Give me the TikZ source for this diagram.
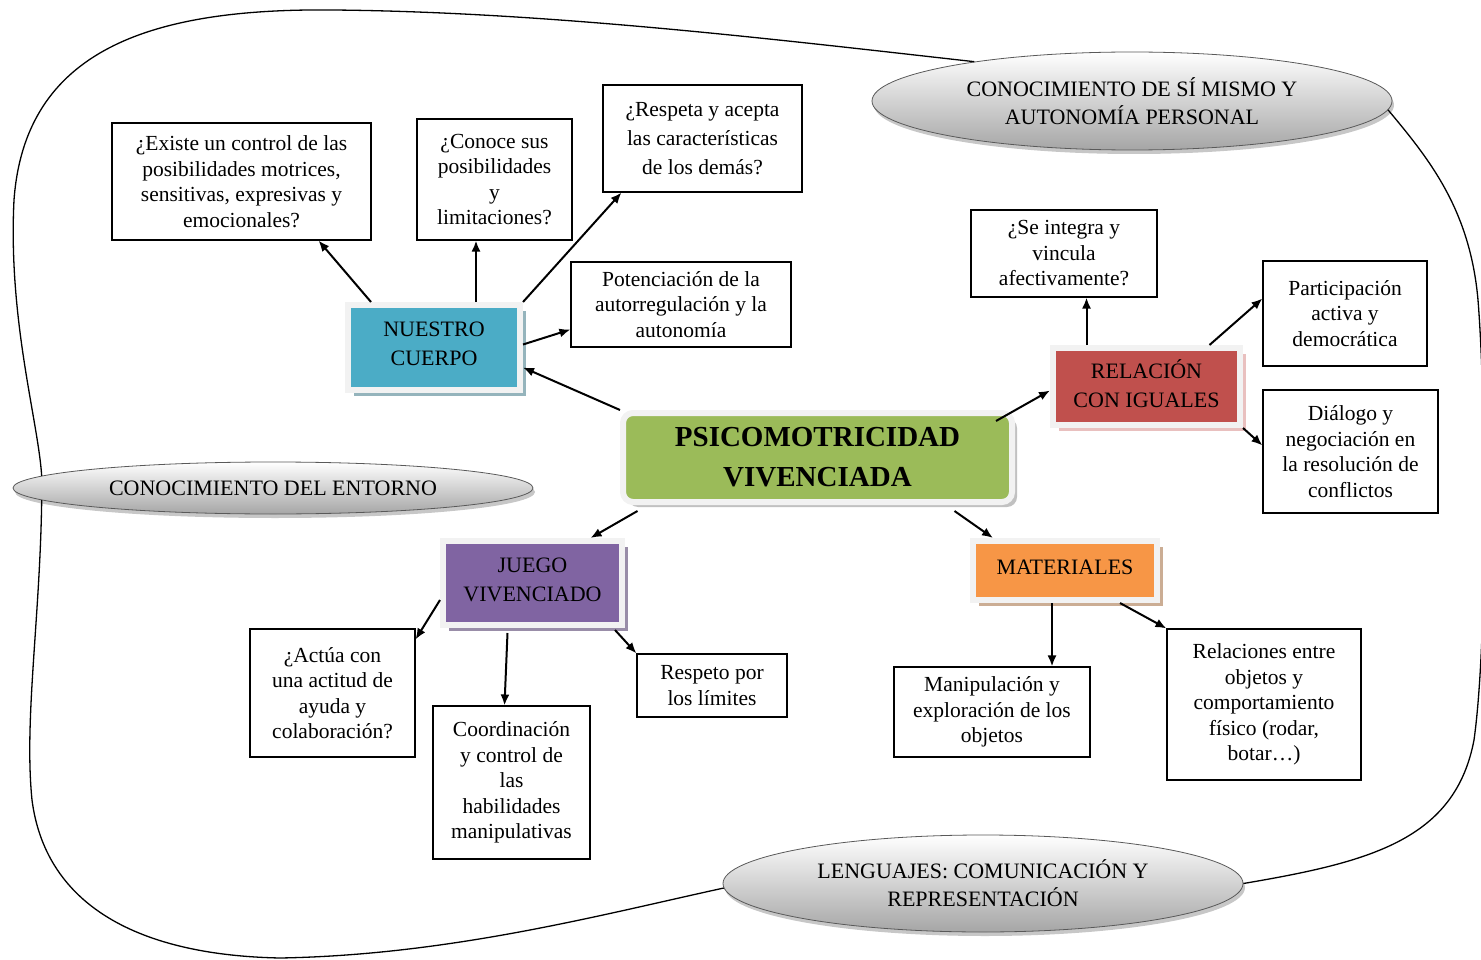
\documentclass[tikz,border=0pt]{standalone}
\usepackage{fontspec}
\setmainfont{Liberation Serif}
\usetikzlibrary{shapes}
\usetikzlibrary{shadows}
\usetikzlibrary{arrows.meta}
\definecolor{cuerpob}{HTML}{4BACC6}
\definecolor{igualr}{HTML}{C0504D}
\definecolor{juegov}{HTML}{8064A2}
\definecolor{materialo}{HTML}{F79646}
\definecolor{centrog}{HTML}{9BBB59}
\definecolor{bordeg}{HTML}{F2F2F2}
\tikzset{
    mybox/.style = {draw=black, line width=1.1pt, fill=white, align=center, inner sep=0pt, font=\fontsize{21.5}{25.5}\selectfont},
    mynodeb/.style = {draw=bordeg, line width=6pt, fill=cuerpob, align=center, inner sep=0pt, text depth=8pt, font=\fontsize{22}{29}\selectfont, drop shadow={shadow xshift=6pt, shadow yshift=-6pt, fill=cuerpob!45!gray, opacity=0.7}},
    mynoder/.style = {draw=bordeg, line width=6pt, fill=igualr, align=center, inner sep=0pt, text depth=6pt, font=\fontsize{22}{29}\selectfont, drop shadow={shadow xshift=6pt, shadow yshift=-6pt, fill=igualr!45!white, opacity=0.8}},
    mynodev/.style = {draw=bordeg, line width=6pt, fill=juegov, align=center, inner sep=0pt, text depth=6pt, font=\fontsize{22}{29}\selectfont, drop shadow={shadow xshift=6pt, shadow yshift=-6pt, fill=juegov!55!gray, opacity=0.8}},
    mynodeo/.style = {draw=bordeg, line width=6pt, fill=materialo, align=center, inner sep=0pt, text depth=7pt, font=\fontsize{22}{29}\selectfont, drop shadow={shadow xshift=6pt, shadow yshift=-6pt, fill=materialo!45!gray, opacity=0.7}},
    mynodeg/.style = {draw=bordeg, line width=6pt, fill=centrog, rounded corners=10pt, align=center, inner sep=0pt, font=\bfseries\fontsize{29}{40}\selectfont, drop shadow={shadow xshift=5pt, shadow yshift=-5pt, fill=gray!60, opacity=0.8}},
    myellipse/.style = {ellipse, draw=gray!70!black, line width=0.8pt, top color=white, bottom color=gray!70, align=center, inner sep=0pt, font=\fontsize{22}{28}\selectfont, drop shadow={shadow xshift=2pt, shadow yshift=-4pt, fill=gray!55, opacity=0.8}},
    edgen/.style = {-, line width=1.3pt, black},
    edgea/.style = {-{Latex[length=11pt,width=9pt]}, line width=2pt, black}
}
\begin{document}
\begin{tikzpicture}[x=1pt, y=-1pt]
  \useasboundingbox (0,0) rectangle (1481,960);
  % the three fields of experience
  \node[myellipse, minimum width=520pt, minimum height=98pt] (sismo) at (1132,101)
    {CONOCIMIENTO DE SÍ MISMO Y\\AUTONOMÍA PERSONAL};
  \node[myellipse, minimum width=520pt, minimum height=52pt] (entorno) at (273,488)
    {CONOCIMIENTO DEL ENTORNO};
  \node[myellipse, minimum width=520pt, minimum height=97pt] (lenguajes) at (983,883.5)
    {LENGUAJES: COMUNICACIÓN Y\\REPRESENTACIÓN};
  % outline round the whole map
  \draw[edgen] (sismo.166) .. controls (780,40) and (550,12) .. (333,10)
    .. controls (150,8) and (25,50) .. (14,200)
    .. controls (8,320) and (38,420) .. (entorno.177);
  \draw[edgen] (entorno.183.5) .. controls (40,620) and (24,720) .. (32,800)
    .. controls (45,900) and (130,955) .. (280,958)
    .. controls (450,955) and (600,915) .. (lenguajes.181);
  \draw[edgen] (lenguajes.0) .. controls (1370,862) and (1455,840) .. (1474,740)
    .. controls (1488,640) and (1486,400) .. (1478,300)
    .. controls (1470,210) and (1430,160) .. (sismo.-2);
  % main blocks
  \node[mynodeg, minimum width=389pt, minimum height=89pt] (centro) at (817.5,457.5)
    {PSICOMOTRICIDAD\\VIVENCIADA};
  \node[mynodeb, minimum width=172pt, minimum height=85pt] (cuerpo) at (434,347.5)
    {NUESTRO\\CUERPO};
  \node[mynoder, minimum width=187pt, minimum height=77pt] (igual) at (1146.5,386.5)
    {RELACIÓN\\CON IGUALES};
  \node[mynodev, minimum width=179pt, minimum height=84pt] (juego) at (532.5,583)
    {JUEGO\\VIVENCIADO};
  \node[mynodeo, minimum width=184pt, minimum height=59pt] (material) at (1065,570.5)
    {MATERIALES};
  % questions and contents
  \node[mybox, minimum width=259pt, minimum height=117pt] (existe) at (241.5,181.5)
    {¿Existe un control de las\\posibilidades motrices,\\sensitivas, expresivas y\\emocionales?};
  \node[mybox, minimum width=155pt, minimum height=121pt] (conoce) at (494.5,179.5)
    {¿Conoce sus\\posibilidades\\y\\limitaciones?};
  \node[mybox, minimum width=199pt, minimum height=107pt, font=\fontsize{21.5}{29}\selectfont] (respeta) at (702.5,138.5)
    {¿Respeta y acepta\\las características\\de los demás?};
  \node[mybox, minimum width=220pt, minimum height=85pt] (potencia) at (681,304.5)
    {Potenciación de la\\autorregulación y la\\autonomía};
  \node[mybox, minimum width=186pt, minimum height=87pt] (integra) at (1064,253.5)
    {¿Se integra y\\vincula\\afectivamente?};
  \node[mybox, minimum width=164pt, minimum height=105pt] (particip) at (1345,313.5)
    {Participación\\activa y\\democrática};
  \node[mybox, minimum width=175pt, minimum height=123pt] (dialogo) at (1350.5,451.5)
    {Diálogo y\\negociación en\\la resolución de\\conflictos};
  \node[mybox, minimum width=165pt, minimum height=128pt] (actua) at (332.5,693)
    {¿Actúa con\\una actitud de\\ayuda y\\colaboración?};
  \node[mybox, minimum width=157pt, minimum height=153pt] (coord) at (511.5,782.5)
    {Coordinación\\y control de\\las\\habilidades\\manipulativas};
  \node[mybox, minimum width=150pt, minimum height=63pt] (respeto) at (712,685.5)
    {Respeto por\\los límites};
  \node[mybox, minimum width=196pt, minimum height=90pt] (manip) at (992,712)
    {Manipulación y\\exploración de los\\objetos};
  \node[mybox, minimum width=194pt, minimum height=151pt] (relac) at (1264,704.5)
    {Relaciones entre\\objetos y\\comportamiento\\físico (rodar,\\botar…)};
  % arrows
  \draw[edgea] (centro.north west) -- ([yshift=-20pt]cuerpo.east);
  \draw[edgea] ([xshift=-63pt]cuerpo.north) -- ([xshift=77pt]existe.south);
  \draw[edgea] ([xshift=42pt]cuerpo.north) -- ([xshift=42pt]cuerpo.north |- conoce.south);
  \draw[edgea] (cuerpo.north east) -- ([xshift=-81pt]respeta.south);
  \draw[edgea] ([yshift=3pt]cuerpo.east) -- ([yshift=-25pt]potencia.west);
  \draw[edgea] ([xshift=-19pt,yshift=-11pt]centro.north east) -- ([yshift=-4pt]igual.west);
  \draw[edgea] ([xshift=-60pt]igual.north) -- ([xshift=-60pt]igual.north |- integra.south);
  \draw[edgea] ([xshift=63pt]igual.north) -- ([yshift=15pt]particip.west);
  \draw[edgea] (igual.south east) -- ([yshift=6pt]dialogo.west);
  \draw[edgea] ([xshift=-180pt,yshift=-6pt]centro.south) -- ([xshift=58pt]juego.north);
  \draw[edgea] ([yshift=-17pt]juego.west) -- ([yshift=-11pt]actua.north east);
  \draw[edgea] ([xshift=-25pt,yshift=-5pt]juego.south) -- ([xshift=-7pt]coord.north);
  \draw[edgea] ([xshift=-10pt,yshift=-2pt]juego.south east) -- (respeto.north west);
  \draw[edgea] ([xshift=137pt,yshift=-6pt]centro.south) -- ([xshift=-72pt]material.north);
  \draw[edgea] ([xshift=-13pt]material.south) -- ([xshift=-13pt]material.south |- manip.north);
  \draw[edgea] ([xshift=55pt]material.south) -- (relac.north west);
\end{tikzpicture}
\end{document}
